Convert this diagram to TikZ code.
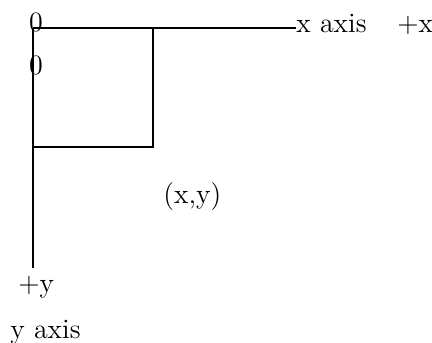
\documentclass[tikz,border=0pt]{standalone}
\usepackage{tikz}
\usetikzlibrary{positioning, calc}

\tikzset{
  lbl/.style={inner sep=0pt, anchor=base west, font=\fontsize{14}{17}\selectfont},
  axisline/.style={line width=1pt}
}

\begin{document}
\begin{tikzpicture}[x=0.5pt, y=-0.5pt]
            \useasboundingbox (0, 0) rectangle (432, 342);

            % Points
            \coordinate (o) at (33, 28);
            \coordinate (xend) at (296, 28);
            \coordinate (yend) at (33, 268);
            \coordinate (pt) at (153, 147);

            % Axes
            \draw[axisline] (o) -- (xend);
            \draw[axisline] (o) -- (yend);

            % Box
            \draw[axisline] (o -| pt) -- (pt) -- (pt -| o);

            % Labels
            \node[lbl, anchor=center] (zerox) at (36, 22) {0};
            \node[lbl, anchor=center] (zeroy) at (36, 65) {0};
            \node[lbl] (xlbl) at (296, 33) {x axis};
            \node[lbl] (xplus) at (397, 33) {+x};
            \node[lbl] (pxy) at (163, 203) {(x,y)};
            \node[lbl] (yplus) at (18, 292) {+y};
            \node[lbl] (ylbl) at (10, 338) {y axis};
        \end{tikzpicture}
\end{document}
